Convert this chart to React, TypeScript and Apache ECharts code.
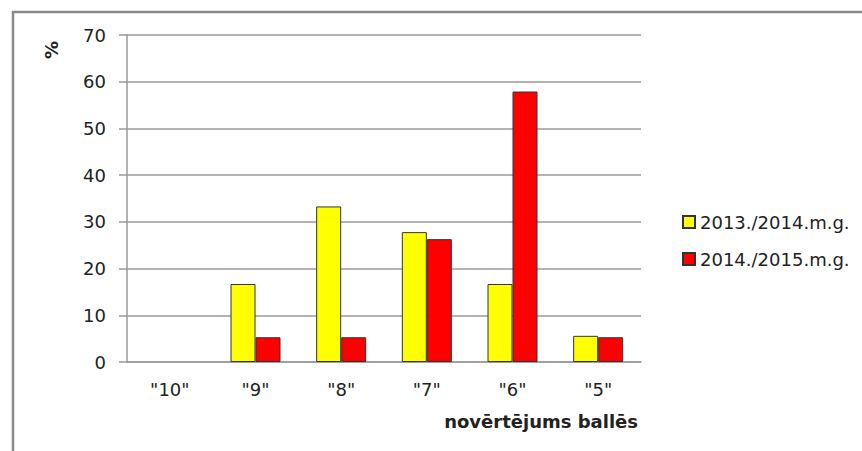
import React, { useEffect, useRef } from "react";
import * as echarts from "echarts";

const categories = ['"10"', '"9"', '"8"', '"7"', '"6"', '"5"'];
const series2013 = [0, 16.7, 33.3, 27.8, 16.7, 5.6];
const series2014 = [0, 5.3, 5.3, 26.3, 57.9, 5.3];
const seriesNames = ["2013./2014.m.g.", "2014./2015.m.g."];
const yTicks = { min: 0, max: 70, interval: 10 };

const FONT = "'DejaVu Sans', sans-serif";

const toData = (arr: number[]) =>
  arr.map((v) => (v === 0 ? { value: v, itemStyle: { borderWidth: 0 } } : v));

export default function App() {
  const ref = useRef<HTMLDivElement>(null);
  useEffect(() => {
    document.body.style.margin = "0";
    const chart = echarts.init(ref.current!, null, { renderer: "svg" });
    chart.setOption({
      animation: false,
      backgroundColor: "#ffffff",
      textStyle: { fontFamily: FONT },
      grid: { left: 127, right: 221, top: 35, bottom: 89, containLabel: false },
      legend: {
        orient: "vertical",
        left: 677,
        top: 208,
        itemWidth: 12,
        itemHeight: 12,
        itemGap: 19,
        icon: "rect",
        textStyle: { fontSize: 18, lineHeight: 18, color: "#222", fontFamily: FONT },
        data: seriesNames,
      },
      xAxis: {
        type: "category",
        data: categories,
        axisLine: { show: true, lineStyle: { color: "#9a9a9a", width: 1.5 } },
        axisTick: { show: false },
        axisLabel: { fontSize: 18, color: "#222", margin: 18, fontFamily: FONT },
        name: "novērtējums ballēs",
        nameLocation: "end",
        nameGap: 0,
        nameTextStyle: {
          fontSize: 18,
          fontWeight: "bold",
          color: "#222",
          align: "right",
          verticalAlign: "top",
          padding: [50, 3, 0, 0],
          fontFamily: FONT,
        },
      },
      yAxis: {
        type: "value",
        min: yTicks.min,
        max: yTicks.max,
        interval: yTicks.interval,
        axisLine: { show: true, lineStyle: { color: "#9a9a9a", width: 1.5 } },
        axisTick: { show: true, length: 8, lineStyle: { color: "#9a9a9a", width: 1.5 } },
        splitLine: { show: true, lineStyle: { color: "#9a9a9a", width: 1.5 } },
        axisLabel: { fontSize: 18, color: "#222", margin: 21, fontFamily: FONT },
      },
      series: [
        {
          name: seriesNames[0],
          type: "bar",
          data: toData(series2013),
          barWidth: 25,
          barGap: "0%",
          itemStyle: { color: "#ffff00", borderColor: "#333", borderWidth: 1 },
        },
        {
          name: seriesNames[1],
          type: "bar",
          data: toData(series2014),
          barWidth: 25,
          barGap: "0%",
          itemStyle: { color: "#ff0000", borderColor: "#333", borderWidth: 1 },
        },
      ],
      graphic: [
        {
          type: "line",
          shape: { x1: 12.5, y1: 12, x2: 862, y2: 12 },
          style: { stroke: "#8a8a8a", lineWidth: 2.5 },
        },
        {
          type: "line",
          shape: { x1: 13, y1: 11, x2: 13, y2: 451 },
          style: { stroke: "#8a8a8a", lineWidth: 2.5 },
        },
        {
          type: "text",
          x: 51.5,
          y: 50,
          rotation: Math.PI / 2,
          style: {
            text: "%",
            fontSize: 18,
            fontWeight: "bold",
            fill: "#222",
            fontFamily: FONT,
            align: "center",
            verticalAlign: "middle",
          },
        },
      ],
    });
    return () => chart.dispose();
  }, []);
  return <div ref={ref} style={{ width: 862, height: 451 }} />;
}
